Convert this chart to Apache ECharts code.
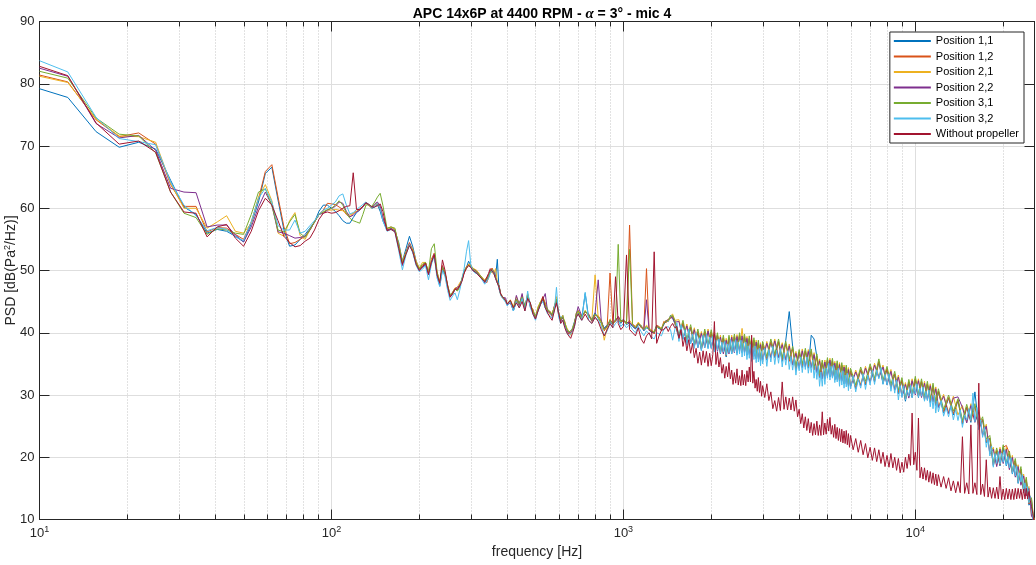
<!DOCTYPE html>
<html><head><meta charset="utf-8">
<script src="https://cdn.jsdelivr.net/npm/echarts@6/dist/echarts.min.js"></script>
<style>html,body{margin:0;padding:0;background:#fff}#c{width:1036px;height:565px}</style>
</head><body><div id="c"></div>
<script>
// frequency grids (Hz)
function seq(a,b,s){const r=[];for(let v=a;v<=b+1e-9;v+=s)r.push(Math.round(v*1000)/1000);return r;}
const FREQ_LOW = [10].concat(seq(12.5,150,3.125), seq(155,400,5), seq(410,700,10), seq(720,1000,20), seq(1025,1500,25));
const FREQ_HIGH = seq(1550,3000,50).concat(seq(3100,6000,100), seq(6250,12000,250), seq(12500,25500,500), [25600]);
const FREQ_HIGH_FINE = seq(1525,3000,25).concat(seq(3050,6000,50), seq(6125,12000,125), seq(12250,25500,250), [25600]);
const FREQ = FREQ_LOW.concat(FREQ_HIGH);
const FREQ_FINE = FREQ_LOW.concat(FREQ_HIGH_FINE);

const X_TICKS = [10, 100, 1000, 10000];
const MINOR_TICKS = [20,30,40,50,60,70,80,90,200,300,400,500,600,700,800,900,
  2000,3000,4000,5000,6000,7000,8000,9000,20000];
const Y_TICKS = [10,20,30,40,50,60,70,80,90];

const NAMES = ['Position 1,1','Position 1,2','Position 2,1','Position 2,2','Position 3,1','Position 3,2','Without propeller'];
const COLORS = ['#0072BD','#D95319','#EDB120','#7E2F8E','#77AC30','#4DBEEE','#A2142F'];

const POS_1_1 = [
79.2,77.8,72.3,69.8,70.6,69.5,64.5,60.2,59.0,56.0,56.6,56.3,55.5,54.6,57.5,61.0,65.6,66.6,61.3,56.5,53.9,54.1,55.0,55.8,56.8,57.8,59.5,60.5,60.5,60.0,
59.5,58.8,58.0,57.6,57.6,58.5,59.3,59.7,60.3,61.0,60.5,60.0,60.2,60.6,59.5,58.0,
56.5,56.8,56.3,54.5,51.5,53.5,55.5,53.8,51.5,50.3,50.5,51.0,49.5,51.3,52.5,49.3,47.5,50.3,49.3,47.3,
45.8,46.2,47.0,46.8,47.6,48.6,49.8,50.5,51.5,50.8,50.0,49.8,49.6,49.5,49.0,48.5,48.2,48.3,49.0,49.8,
50.2,49.6,49.0,51.8,47.0,46.2,45.8,45.5,45.2,44.6,
45.2,43.5,45.0,44.8,45.5,44.2,45.8,44.8,43.2,42.8,43.5,45.0,45.2,44.0,43.8,43.0,43.0,44.2,45.0,43.3,
42.2,42.8,41.2,40.6,40.3,39.8,40.8,41.8,42.8,43.2,
42.3,46.3,42.5,42.2,43.2,42.3,41.5,40.8,41.2,41.8,41.3,42.2,42.3,41.5,42.2,
41.3,41.6,41.0,40.6,41.3,41.2,40.3,40.8,40.6,40.0,40.2,41.2,40.6,40.8,41.3,42.0,41.8,42.8,42.3,41.5,
39.1,41.5,38.4,40.8,37.8,40.1,37.2,40.1,37.6,40.0,37.1,39.5,36.6,39.1,36.1,39.1,36.6,39.3,36.7,39.5,
36.8,39.3,36.4,39.0,36.1,38.7,35.8,38.3,35.4,38.1,35.6,38.5,36.0,38.5,35.4,38.8,43.4,37.8,34.0,36.8,
34.4,37.0,34.3,39.6,39.0,36.1,32.8,35.1,32.6,35.5,32.9,35.4,32.4,35.0,32.2,34.7,31.8,34.3,31.4,33.8,
31.0,34.0,31.6,34.5,32.1,35.3,31.8,34.1,31.1,33.3,30.2,32.3,29.0,32.0,29.6,32.5,29.6,32.1,29.2,31.7,
28.8,31.4,28.3,30.5,27.1,29.5,26.8,29.1,25.3,28.0,25.6,30.5,24.6,26.0,22.3,23.0,18.6,21.0,18.6,21.5,
18.6,20.5,17.3,19.3,15.8,18.0,14.3,16.3,12.3,13.0,9.0,8.0];

const POS_1_2 = [
81.4,80.3,74.2,71.5,72.1,70.3,63.8,60.3,60.3,56.2,56.9,56.8,55.8,55.0,57.8,61.5,65.9,67.0,61.8,57.0,54.3,54.5,55.0,55.5,56.5,57.8,59.0,59.7,60.8,60.7,
60.6,60.2,59.8,59.0,58.6,59.2,59.5,59.9,60.3,60.9,60.6,60.2,60.5,60.6,60.0,58.5,
56.7,57.0,56.6,54.0,51.2,53.0,54.5,53.3,51.3,50.2,50.8,51.3,49.5,51.8,52.8,49.6,47.9,50.8,49.6,47.6,
46.0,46.5,47.2,46.9,47.5,48.4,49.8,50.6,51.0,50.8,50.3,50.1,49.9,49.7,49.1,48.8,48.4,48.0,48.8,49.9,
50.4,49.8,48.8,48.2,47.5,46.3,45.8,45.5,45.0,44.5,
44.8,44.0,45.3,44.3,45.6,44.0,46.2,44.2,43.8,42.3,44.0,44.6,45.6,44.8,43.3,43.5,42.6,44.3,45.3,42.8,
42.3,42.3,41.8,40.3,39.8,40.0,40.3,41.3,43.2,43.6,
42.6,43.3,43.0,41.8,42.8,42.7,42.0,40.3,41.0,49.6,41.6,41.8,42.6,42.0,41.8,
41.7,57.3,41.4,41.0,41.6,40.8,40.7,50.3,40.4,40.4,39.8,41.2,41.0,40.3,41.8,41.6,42.2,42.3,42.7,41.6,
39.3,41.6,38.6,40.9,38.0,40.2,37.4,40.2,37.8,40.1,37.3,39.6,36.8,39.2,36.3,39.2,36.8,39.4,36.9,39.6,
37.0,39.4,36.6,39.1,36.3,38.8,36.0,38.4,35.6,38.2,35.8,38.6,36.2,38.6,35.6,38.2,35.4,37.4,34.2,36.9,
34.6,37.1,34.5,37.0,34.0,36.2,33.0,35.2,32.8,35.6,33.1,35.5,32.6,35.1,32.4,34.8,32.0,34.4,31.6,33.9,
31.2,34.1,31.8,34.6,32.3,35.4,32.0,34.2,31.3,33.4,30.4,32.4,29.2,32.1,29.8,32.6,29.8,32.2,29.4,31.8,
29.0,31.5,28.5,30.6,27.3,29.6,27.0,29.2,25.5,28.1,25.8,28.2,24.8,26.1,22.5,23.1,18.8,21.1,18.8,21.6,
21.9,20.6,17.5,19.4,16.0,18.1,14.5,16.4,12.5,13.2,9.2,8.3];

const POS_2_1 = [
81.2,80.2,74.3,71.6,71.5,70.6,64.0,60.0,60.0,56.8,57.8,58.8,56.3,56.0,57.6,61.8,63.8,61.2,56.0,55.5,58.0,59.3,55.6,55.0,56.5,57.8,59.0,59.4,59.7,59.7,
59.8,59.7,59.6,59.2,58.9,59.2,59.5,59.8,60.2,60.8,60.4,60.0,60.5,60.9,60.2,58.5,
56.5,56.9,56.6,54.2,51.4,53.0,54.2,53.4,51.5,50.4,51.3,51.3,49.8,51.5,52.4,49.8,48.2,50.4,49.6,47.3,
46.0,46.2,47.2,47.3,48.0,48.5,49.7,50.4,51.0,50.9,50.4,50.2,50.0,49.8,49.0,48.7,48.5,48.5,49.2,49.8,
50.0,49.5,50.3,48.0,47.4,46.0,45.6,45.7,45.2,44.6,
45.3,44.2,45.8,44.6,46.0,43.8,46.3,44.6,43.6,42.5,44.2,45.0,45.8,44.6,43.8,43.0,43.2,44.0,45.8,43.2,
41.8,42.8,41.6,40.8,40.2,39.6,40.8,41.6,42.8,43.4,
42.4,43.6,42.6,42.1,49.3,42.4,41.6,38.8,40.8,42.2,41.4,42.1,42.4,41.7,42.1,
41.4,42.0,41.3,40.9,41.7,41.1,40.6,41.2,40.8,40.3,40.2,40.9,41.0,40.7,41.6,42.0,41.9,42.7,43.0,42.0,
42.1,39.2,41.4,38.5,40.8,37.8,40.2,37.8,40.6,37.7,40.1,37.2,39.6,36.8,39.1,36.8,39.6,37.0,39.7,37.2,
40.7,37.0,39.4,36.7,39.1,36.4,38.8,36.0,38.4,35.8,38.6,36.2,39.0,36.2,38.4,35.8,38.2,35.0,37.0,34.5,
37.4,34.7,37.3,34.6,36.8,33.8,35.8,32.8,35.6,33.2,35.9,33.1,35.4,32.7,35.2,32.4,34.8,32.0,34.4,31.5,
34.0,31.7,34.6,32.2,35.1,33.0,34.8,31.8,34.1,31.0,33.2,30.0,32.0,29.7,32.6,30.2,32.6,29.8,32.2,29.4,
31.8,29.1,31.3,28.2,30.1,27.2,29.8,26.8,28.3,25.7,28.6,25.8,27.6,23.7,25.3,20.7,21.6,18.7,21.6,19.2,
21.6,18.2,20.3,17.0,18.8,15.7,17.3,14.0,15.3,10.7,10.3,8.0];

const POS_2_2 = [
82.5,81.2,73.6,71.3,71.7,69.3,63.2,62.6,62.5,57.0,57.3,57.3,55.7,54.6,57.0,60.2,62.6,60.5,56.2,56.0,55.6,55.2,55.3,55.5,56.5,57.8,59.0,59.2,59.7,60.0,
60.3,61.0,60.8,59.5,58.6,58.9,59.4,59.7,60.2,60.8,60.5,60.2,60.7,61.0,60.3,58.5,
56.5,56.7,56.4,53.8,50.8,52.8,54.3,53.0,51.0,50.0,50.6,51.0,49.3,51.3,52.6,49.3,47.8,50.6,49.4,47.4,
45.8,46.3,47.0,47.3,47.6,48.5,49.8,50.5,50.8,50.6,50.0,50.1,49.8,49.2,49.0,48.5,48.0,48.1,49.2,50.0,
50.3,49.8,48.8,48.0,47.6,46.2,45.7,46.0,45.6,44.5,
44.8,43.6,46.0,44.5,46.3,43.8,45.8,44.2,43.4,42.4,43.6,44.6,45.4,46.3,43.4,43.3,42.8,43.8,45.2,42.9,
41.8,42.5,41.3,40.4,39.9,39.7,40.4,41.4,43.0,44.2,
42.7,43.4,43.0,41.9,43.1,48.5,41.9,40.6,41.1,42.0,41.6,41.9,42.6,41.9,41.9,
41.6,41.7,41.1,40.7,41.4,41.0,40.4,45.3,40.4,40.1,40.0,41.0,40.9,40.4,41.4,41.9,42.1,42.4,42.4,41.7,
41.8,39.0,41.1,38.3,40.5,37.6,39.9,37.6,40.3,37.5,39.8,37.0,39.3,36.6,38.8,36.6,39.3,36.8,39.4,37.0,
39.5,36.8,39.1,36.5,38.8,36.2,38.5,35.8,38.1,35.6,38.3,36.0,38.7,36.0,38.1,35.6,37.9,34.8,36.7,34.3,
37.1,34.5,37.0,34.4,36.5,33.6,35.5,32.6,35.3,33.0,35.6,32.9,35.1,32.5,34.9,32.2,34.5,31.8,34.1,31.3,
33.7,31.5,34.3,32.0,34.8,32.8,34.5,31.6,33.8,30.8,32.9,29.8,31.7,29.5,32.3,30.0,32.3,29.6,31.9,29.2,
31.5,28.9,31.0,28.0,29.8,27.0,29.5,29.7,28.0,25.5,28.3,25.6,27.3,23.5,25.0,20.5,21.3,18.5,21.3,19.0,
21.3,18.0,20.0,16.8,18.5,15.5,17.0,13.8,15.0,10.5,10.0,8.0];

const POS_3_1 = [
82.0,80.9,74.5,71.9,71.6,68.9,62.6,59.2,58.5,55.8,56.7,56.5,56.0,55.8,59.0,62.6,63.1,60.5,56.5,56.2,57.8,59.0,56.0,55.3,56.6,57.8,59.0,59.4,59.8,60.0,
60.5,61.2,60.5,59.2,58.4,58.0,57.8,57.6,59.0,60.5,60.6,60.3,61.0,61.8,62.4,60.5,
56.8,57.0,56.8,54.0,51.3,52.8,54.2,53.0,51.2,50.3,51.0,51.3,49.8,53.5,54.3,49.8,48.0,50.5,49.6,47.7,
46.1,46.5,47.0,46.7,47.3,48.8,50.0,50.5,50.8,50.7,50.3,50.0,49.7,49.6,49.1,48.6,48.2,48.2,49.0,49.8,
50.2,49.9,48.9,48.2,47.5,46.2,45.9,45.5,45.1,44.7,
45.1,43.9,45.4,44.7,45.7,44.2,46.1,44.5,43.5,42.6,43.9,44.9,45.5,44.5,43.6,43.4,42.9,44.1,45.4,43.1,
42.1,42.6,41.6,40.6,40.1,39.9,40.6,41.6,43.1,43.5,
42.5,43.5,42.8,42.0,43.0,42.5,41.8,40.5,41.0,42.0,41.5,42.0,54.2,41.8,42.0,
41.5,53.4,41.3,40.8,41.5,41.0,40.5,41.0,40.6,40.2,40.1,41.0,40.8,40.6,41.5,41.8,42.0,42.6,42.8,42.0,
39.7,42.0,39.0,41.3,38.4,40.6,37.8,40.6,38.2,40.5,37.7,40.0,37.2,39.6,36.7,39.6,37.2,39.8,37.3,40.0,
37.4,39.8,37.0,39.5,36.7,39.2,36.4,38.8,36.0,38.6,36.2,39.0,36.6,39.0,36.0,38.6,35.8,37.8,34.6,37.3,
35.0,37.5,34.9,37.4,34.4,36.6,33.4,35.6,33.2,36.0,33.5,35.9,33.0,35.5,32.8,35.2,32.4,34.8,32.0,34.3,
31.6,34.5,32.2,35.0,32.7,35.8,32.4,34.6,31.7,33.8,30.8,32.8,29.6,32.5,30.2,33.0,30.2,32.6,29.8,32.2,
29.4,31.9,28.9,31.0,27.7,30.0,27.4,29.4,25.9,28.5,26.2,28.6,25.2,26.5,22.9,23.5,19.2,21.5,19.2,22.0,
19.2,21.0,17.9,19.8,16.4,18.5,14.9,16.8,12.9,13.5,9.5,8.5];

// Position 3,2 and no-propeller are read on the finer high-frequency grid (FREQ_FINE)
const POS_3_2 = [
83.7,81.9,74.6,71.2,70.7,70.2,64.2,60.5,58.8,56.4,56.9,56.6,55.4,54.8,57.8,61.6,63.2,61.0,57.2,56.5,56.5,58.1,56.0,56.3,57.2,58.0,59.0,59.7,60.0,60.5,
61.0,62.0,62.3,60.5,59.1,59.3,59.8,60.2,60.6,61.0,60.6,60.0,60.4,60.8,60.0,58.0,
56.3,56.6,56.2,53.2,50.1,52.5,54.2,52.8,50.8,49.8,50.2,50.8,48.5,51.0,52.3,48.8,47.4,50.0,49.0,46.8,
45.2,45.9,46.4,45.3,46.8,48.5,50.4,53.0,54.8,51.0,50.0,49.6,49.5,49.2,48.8,48.3,47.8,47.8,48.7,49.5,
50.0,49.5,48.7,48.0,47.2,46.0,45.6,45.3,44.9,44.3,
45.0,43.5,45.0,44.0,45.5,43.5,46.7,44.0,43.0,42.0,43.5,44.5,45.0,44.0,43.0,42.8,42.3,43.5,47.3,42.5,
41.5,42.0,41.0,40.0,39.5,39.5,40.2,41.0,42.5,43.0,
42.0,46.5,42.0,41.5,42.5,42.0,41.0,39.5,40.3,41.5,40.8,41.5,42.0,41.0,41.5,
40.8,41.3,40.5,40.0,41.0,40.2,39.5,40.3,39.8,39.3,39.0,40.0,39.8,39.5,40.5,40.8,41.0,40.5,38.8,40.5,
41.6,38.6,41.3,38.9,40.5,38.0,40.6,38.2,39.8,37.5,40.0,37.6,39.2,37.1,39.6,37.6,39.8,37.4,39.3,37.5,
39.4,36.9,38.8,37.2,39.0,36.7,38.5,36.9,38.6,36.4,38.2,36.8,38.9,36.6,38.6,36.9,38.9,36.4,38.5,36.6,
38.8,36.1,38.3,36.3,38.5,35.7,37.9,35.9,38.1,35.4,37.6,35.7,37.9,35.2,37.3,35.3,37.5,34.7,37.0,35.0,
37.5,34.6,37.3,35.3,37.8,34.9,37.2,35.1,37.5,34.5,36.8,34.8,37.1,34.1,36.2,34.0,36.0,33.2,35.4,33.9,
36.1,33.6,35.7,34.1,36.1,33.5,35.4,33.6,35.6,32.7,34.7,32.5,34.7,31.4,33.7,31.4,34.2,31.7,34.3,32.7,
35.1,32.4,34.6,32.7,34.8,32.0,34.0,32.1,34.3,31.4,33.6,31.6,33.9,31.1,33.2,31.3,33.5,30.7,32.8,31.0,
33.1,30.5,32.6,31.1,33.4,30.9,33.2,31.6,34.0,31.7,34.0,32.6,34.4,31.7,33.3,31.6,33.4,30.6,32.5,30.3,
32.4,29.2,31.5,29.6,31.5,29.2,30.8,29.8,31.6,29.6,31.3,30.2,31.8,29.7,31.1,29.8,31.3,29.0,30.6,29.1,
30.8,28.1,29.9,27.8,30.0,27.1,29.1,27.3,29.1,26.6,28.0,26.5,28.3,26.0,27.7,25.9,27.6,24.8,26.8,26.0,
27.8,25.9,30.3,25.7,28.0,24.4,26.0,23.2,24.8,21.6,23.0,20.2,21.8,18.4,20.6,19.0,20.9,18.9,20.7,19.2,
21.1,18.7,20.1,18.3,19.9,17.4,18.8,17.0,18.6,15.9,17.5,16.0,17.2,14.8,15.9,14.2,15.3,12.7,13.8,11.6,
11.8,9.2,8.0];

const NO_PROP = [
82.8,81.3,73.7,70.3,70.8,69.0,62.6,59.4,59.2,55.4,57.0,57.4,55.2,53.9,56.3,59.6,61.6,60.5,58.0,55.5,54.5,53.8,54.0,54.7,55.2,56.5,58.2,59.2,59.4,59.2,
59.3,59.6,60.0,60.3,60.4,65.7,59.8,59.8,60.3,60.9,60.6,60.2,60.2,60.4,60.7,59.5,
56.4,56.6,56.2,53.5,51.0,52.6,54.0,53.0,51.0,50.0,50.6,51.2,49.4,51.3,52.5,49.3,48.0,51.7,50.0,47.5,
45.7,46.3,47.0,47.0,47.5,48.3,49.6,50.3,50.8,50.5,50.0,49.8,49.5,49.3,48.8,48.5,48.2,48.5,49.5,50.3,
50.2,49.5,48.7,48.0,47.3,46.2,45.8,45.6,45.2,44.6,
45.2,44.0,44.8,44.0,45.0,43.5,45.5,44.8,43.0,42.2,43.5,44.5,45.8,44.0,43.2,42.5,42.0,43.5,44.8,43.2,
41.5,42.0,40.8,40.0,39.5,39.1,40.0,41.0,42.5,43.0,
42.0,43.0,42.0,41.5,42.5,41.8,40.5,39.5,40.5,41.5,40.8,49.0,41.5,40.5,41.0,
52.5,40.5,40.0,39.5,40.8,39.0,38.3,39.5,40.0,39.0,53.0,38.3,39.5,40.4,40.5,41.0,40.2,41.0,41.5,40.8,
41.0,39.1,40.5,37.8,39.3,37.1,38.9,36.7,38.3,36.0,37.5,35.1,36.9,34.8,37.1,35.2,37.0,34.6,36.7,34.7,
36.5,41.8,34.9,36.9,34.5,36.0,33.5,34.9,32.7,34.6,32.9,35.2,32.6,34.0,31.7,33.6,31.9,34.2,31.6,33.1,
31.5,34.0,31.6,33.3,31.5,33.9,32.1,34.5,32.1,39.6,31.9,33.8,31.1,32.5,30.6,32.8,30.4,32.2,29.8,31.5,
29.6,31.8,29.1,30.5,27.8,29.1,27.4,29.6,27.5,32.1,27.7,29.7,27.6,29.5,27.6,29.7,27.4,29.2,26.5,27.7,
25.4,27.0,24.7,26.5,24.3,26.2,23.9,25.6,23.5,25.4,23.6,25.8,23.5,25.2,23.5,27.3,23.6,25.5,23.7,26.1,
24.2,26.4,23.7,25.1,23.2,25.3,23.0,24.8,22.7,24.6,22.5,24.5,22.3,24.2,22.2,24.3,22.0,23.8,21.6,23.5,
21.2,23.0,20.8,22.7,20.4,22.2,19.9,21.6,19.5,21.5,19.3,21.2,19.0,20.8,18.5,20.3,18.4,20.6,18.3,20.0,
17.9,19.8,17.5,19.2,17.6,20.0,18.2,20.5,18.7,27.1,18.8,20.8,17.9,26.3,16.7,18.4,16.5,18.3,16.3,17.9,
16.0,17.7,15.8,17.5,15.6,17.3,15.4,17.2,15.2,16.9,15.0,16.7,14.6,16.2,14.3,16.1,14.3,23.3,14.2,15.9,
14.1,25.2,14.2,15.9,14.0,31.9,14.0,15.7,13.7,19.6,13.6,15.2,13.4,15.1,13.4,15.2,13.3,16.9,13.2,14.9,
13.2,15.0,13.3,14.9,13.2,14.9,13.2,15.0,13.3,15.0,13.4,14.9,13.2,14.9,13.3,15.0,13.3,14.5,13.1,12.1,
11.0,9.5,8.0];

const VALUES = [POS_1_1, POS_1_2, POS_2_1, POS_2_2, POS_3_1, POS_3_2, NO_PROP];
const XGRID = [FREQ, FREQ, FREQ, FREQ, FREQ, FREQ_FINE, FREQ_FINE];

const FONT = '"Liberation Sans", Arial, Helvetica, sans-serif';
const AX = '#262626';

const chart = echarts.init(document.getElementById('c'), null, {renderer: 'canvas'});

const lineSeries = NAMES.map((name, i) => ({
  name: name,
  type: 'line',
  data: XGRID[i].map((f, k) => [f, VALUES[i][k]]),
  symbol: 'none',
  showSymbol: false,
  lineStyle: {width: 1, color: COLORS[i]},
  itemStyle: {color: COLORS[i]},
  emphasis: {disabled: true},
  clip: true,
  z: 3,
  animation: false
}));

const minorSeries = {
  type: 'custom',
  name: 'minor',
  silent: true,
  z: 1,
  animation: false,
  data: MINOR_TICKS.map(f => [f, 10]),
  renderItem: function (params, api) {
    const f = api.value(0);
    const b = api.coord([f, 10]);
    const t = api.coord([f, 90]);
    const x = Math.round(b[0]) + 0.5;
    return {
      type: 'group',
      children: [
        {type: 'line', shape: {x1: x, y1: t[1], x2: x, y2: b[1]}, style: {stroke: '#c4c4c4', lineWidth: 1, lineDash: [1, 2]}},
        {type: 'line', shape: {x1: x, y1: b[1], x2: x, y2: b[1] - 5}, style: {stroke: AX, lineWidth: 1}},
        {type: 'line', shape: {x1: x, y1: t[1], x2: x, y2: t[1] + 5}, style: {stroke: AX, lineWidth: 1}}
      ]
    };
  }
};

function logLabel(v) {
  const e = Math.log10(v);
  if (Math.abs(e - Math.round(e)) < 1e-6 && X_TICKS.indexOf(Math.round(v)) >= 0) {
    return '{b|10}{s|' + Math.round(e) + '}';
  }
  return '';
}

const option = {
  backgroundColor: '#ffffff',
  animation: false,
  title: {
    text: '{b|APC 14x6P at 4400 RPM - }{i|α}{b| = 3° - mic 4}',
    left: 537, top: 2, textAlign: 'center',
    textStyle: {
      rich: {
        b: {fontFamily: FONT, fontWeight: 'bold', fontSize: 14, color: '#000'},
        i: {fontFamily: '"Liberation Serif", "DejaVu Serif", serif', fontStyle: 'italic', fontSize: 15, color: '#000'}
      }
    }
  },
  legend: {
    data: NAMES,
    orient: 'vertical',
    right: 12, top: 32,
    icon: 'rect',
    itemWidth: 37, itemHeight: 2, itemGap: 3.5,
    padding: [3, 5, 3, 4],
    borderColor: AX, borderWidth: 1,
    backgroundColor: '#ffffff',
    selectedMode: false,
    textStyle: {fontFamily: FONT, fontSize: 11, color: '#000', lineHeight: 12}
  },
  grid: {left: 39.5, right: 1.5, top: 21.5, bottom: 45.5, containLabel: false, outerBoundsMode: 'none'},
  xAxis: [
    {
      type: 'log', logBase: 10, min: 10, max: 25600, position: 'bottom',
      axisLine: {show: true, onZero: false, lineStyle: {color: AX, width: 1}},
      axisTick: {show: true, inside: true, length: 10, lineStyle: {color: AX, width: 1}},
      axisLabel: {
        show: true, margin: 6, formatter: logLabel,
        rich: {
          b: {fontFamily: FONT, fontSize: 13, color: AX},
          s: {fontFamily: FONT, fontSize: 9, color: AX, padding: [0, 0, 7, 0]}
        }
      },
      splitLine: {show: true, lineStyle: {color: '#dedede', width: 1}},
      minorTick: {show: false}, minorSplitLine: {show: false},
      name: 'frequency [Hz]', nameLocation: 'middle', nameGap: 26, nameMoveOverlap: false,
      nameTextStyle: {fontFamily: FONT, fontSize: 14, color: AX}
    },
    {
      type: 'log', logBase: 10, min: 10, max: 25600, position: 'top',
      axisLine: {show: true, onZero: false, lineStyle: {color: AX, width: 1}},
      axisTick: {show: true, inside: true, length: 10, lineStyle: {color: AX, width: 1}},
      axisLabel: {show: false},
      splitLine: {show: false}
    }
  ],
  yAxis: [
    {
      type: 'value', min: Y_TICKS[0], max: Y_TICKS[Y_TICKS.length - 1], interval: 10, position: 'left',
      axisLine: {show: true, onZero: false, lineStyle: {color: AX, width: 1}},
      axisTick: {show: true, inside: true, length: 10, lineStyle: {color: AX, width: 1}},
      axisLabel: {show: true, margin: 5, fontFamily: FONT, fontSize: 13, color: AX},
      splitLine: {show: true, lineStyle: {color: '#dedede', width: 1}},
      name: '{a|PSD [dB(Pa}{s|2}{a|/Hz)]}', nameLocation: 'middle', nameGap: 20, nameRotate: 90, nameMoveOverlap: false,
      nameTextStyle: {
        rich: {
          a: {fontFamily: FONT, fontSize: 14, color: AX},
          s: {fontFamily: FONT, fontSize: 9, color: AX, padding: [0, 0, 7, 0]}
        }
      }
    },
    {
      type: 'value', min: 10, max: 90, interval: 10, position: 'right',
      axisLine: {show: true, onZero: false, lineStyle: {color: AX, width: 1}},
      axisTick: {show: true, inside: true, length: 10, lineStyle: {color: AX, width: 1}},
      axisLabel: {show: false},
      splitLine: {show: false}
    }
  ],
  series: [minorSeries].concat(lineSeries)
};

chart.setOption(option);
</script>
</body></html>
